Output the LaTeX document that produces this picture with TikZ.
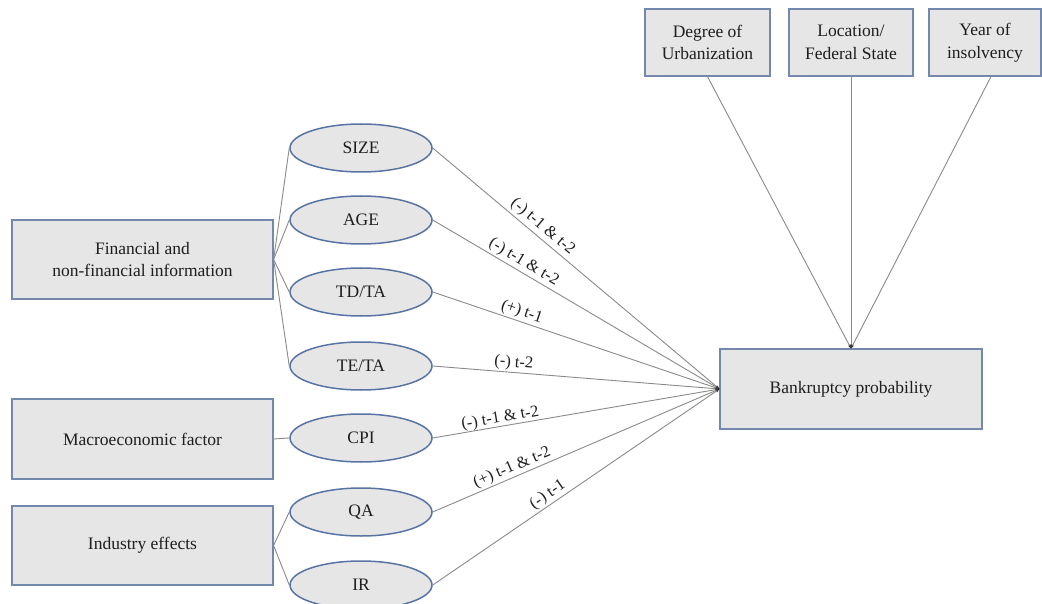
\documentclass[tikz,border=0pt]{standalone}
\usepackage{fontspec}
\setmainfont{Liberation Serif}
\usetikzlibrary{arrows.meta,shapes.geometric}
\definecolor{boxfill}{HTML}{E6E6E6}
\definecolor{boxline}{HTML}{7388AC}
\definecolor{ellline}{HTML}{5874A4}
\definecolor{conncol}{HTML}{8A8A8A}
\definecolor{txt}{HTML}{1E1E1E}
\begin{document}
\begin{tikzpicture}[x=1pt,y=-1pt,
  rbox/.style={draw=boxline,line width=1.2pt,fill=boxfill,text=txt,align=center,inner sep=2pt,font=\fontsize{17.5}{22.5}\selectfont},
  ell/.style={draw=ellline,line width=1.5pt,fill=boxfill,text=txt,ellipse,minimum width=142pt,minimum height=48pt,inner sep=0pt,font=\fontsize{17.5}{21}\selectfont},
  link/.style={draw=conncol,line width=0.9pt},
  arr/.style={link,-{Stealth[length=4pt,width=3pt,color=black!80]}},
  lab/.style={sloped,above,text=txt,inner sep=1.5pt,font=\fontsize{16.5}{18}\selectfont}]
\useasboundingbox (0,0) rectangle (1042,604);
\fill[white] (0,0) rectangle (1042,604);
% left boxes
\node[rbox,minimum width=261pt,minimum height=79pt] (fin) at (142.5,259.5) {Financial and\\non-financial information};
\node[rbox,minimum width=261pt,minimum height=80pt] (mac) at (142.5,439) {Macroeconomic factor};
\node[rbox,minimum width=261pt,minimum height=79pt] (ind) at (142.5,545.5) {Industry effects};
% ellipses
\node[ell] (size) at (361,148) {SIZE};
\node[ell] (age) at (361,220) {AGE};
\node[ell] (tdta) at (361,292) {TD/TA};
\node[ell] (teta) at (361,366) {TE/TA};
\node[ell] (cpi) at (361,438) {CPI};
\node[ell] (qa) at (361,512) {QA};
\node[ell] (ir) at (361,585) {IR};
% target
\node[rbox,minimum width=262pt,minimum height=80pt] (bp) at (851,389) {Bankruptcy probability};
% top boxes
\node[rbox,minimum width=125pt,minimum height=67pt] (deg) at (707.5,42.5) {Degree of\\Urbanization};
\node[rbox,minimum width=124pt,minimum height=67pt] (loc) at (851,42.5) {Location/\\Federal State};
\node[rbox,minimum width=112pt,minimum height=67pt] (year) at (985,42.5) {Year of\\insolvency};
% left connectors
\foreach \e in {size,age,tdta,teta} \draw[link] (fin.east) -- (\e.west);
\draw[link] (mac.east) -- (cpi.west);
\foreach \e in {qa,ir} \draw[link] (ind.east) -- (\e.west);
% connectors to target
\draw[arr] (size.east) -- node[lab,pos=0.36,inner sep=2.5pt] {(-) t-1 \& t-2} (bp.west);
\draw[arr] (age.east) -- node[lab,pos=0.30,inner sep=2pt] {(-) t-1 \& t-2} (bp.west);
\draw[arr] (tdta.east) -- node[lab,pos=0.30] {(+) t-1} (bp.west);
\draw[arr] (teta.east) -- node[lab,pos=0.28] {(-) t-2} (bp.west);
\draw[arr] (cpi.east) -- node[lab,pos=0.24,inner sep=0pt] {(-) t-1 \& t-2} (bp.west);
\draw[arr] (qa.east) -- node[lab,pos=0.29] {(+) t-1 \& t-2} (bp.west);
\draw[arr] (ir.east) -- node[lab,pos=0.42] {(-) t-1} (bp.west);
% top connectors
\draw[arr] (deg.south) -- (bp.north);
\draw[arr] (loc.south) -- (bp.north);
\draw[arr] ([xshift=6pt]year.south) -- (bp.north);
\end{tikzpicture}
\end{document}
